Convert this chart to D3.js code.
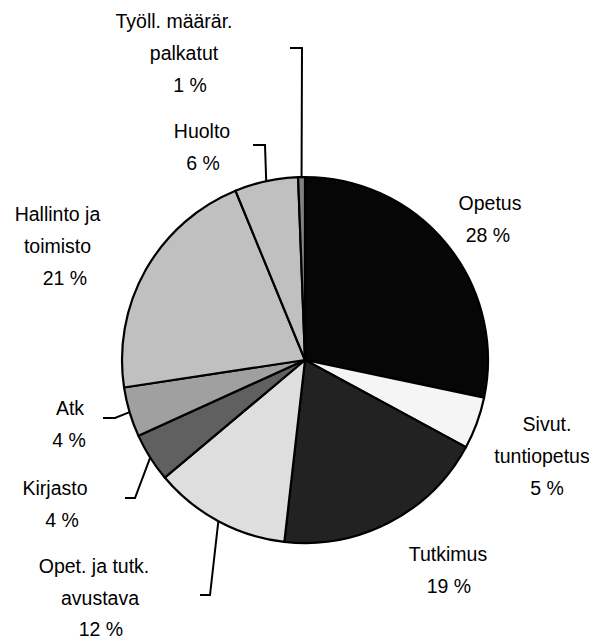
<!DOCTYPE html>
<html>
<head>
<meta charset="utf-8">
<script src="https://cdn.jsdelivr.net/npm/d3@7"></script>
<style>
  body { margin: 0; background: #fff; }
  text { font-family: Arial, "Liberation Sans", sans-serif; font-size: 19.5px; fill: #000; }
</style>
</head>
<body>
<div id="chart"></div>
<script>
// slice data, clockwise from 12 o'clock
const categories = ["Opetus", "Sivut.\ntuntiopetus", "Tutkimus", "Opet. ja tutk.\navustava",
    "Kirjasto", "Atk", "Hallinto ja\ntoimisto", "Huolto", "Työll. määrär.\npalkatut"];
const shares = [28.3, 4.6, 18.9, 12.1, 4.3, 4.4, 21.2, 5.6, 0.6];
const fills = ["#060606", "#f5f5f5", "#222222", "#dedede", "#606060", "#a0a0a0", "#c0c0c0", "#c0c0c0", "#808080"];

// label placement (line centres, first baseline) and leader elbows
const labelPos = [
    {xs: [490, 488], y: 210},
    {xs: [547, 542, 547], y: 431},
    {xs: [448, 449], y: 561},
    {xs: [94, 100, 101], y: 573, gap: 31.5, leader: [210, 595, 200]},
    {xs: [55, 62], y: 495, leader: [135, 498, 125]},
    {xs: [70, 69], y: 415, leader: [115, 418, 103]},
    {xs: [57.5, 57.5, 65], y: 221},
    {xs: [202, 203], y: 138, leader: [265, 145, 253]},
    {xs: [174, 184, 190], y: 28, leader: [302, 48, 290]}
];

const width = 589, height = 640;
const cx = 305, cy = 360, radius = 183;
const lineGap = 32;

const svg = d3.select("#chart").append("svg")
    .attr("width", width)
    .attr("height", height);

const g = svg.append("g").attr("transform", `translate(${cx},${cy})`);

const pie = d3.pie().value(d => d).sort(null);
const arc = d3.arc().innerRadius(0).outerRadius(radius);
const arcs = pie(shares);

g.selectAll("path.slice")
    .data(arcs)
    .enter().append("path")
    .attr("class", "slice")
    .attr("d", arc)
    .attr("fill", (d, i) => fills[i])
    .attr("stroke", "#000")
    .attr("stroke-width", 2.2)
    .attr("stroke-linejoin", "round");

// leader lines from slice edge to label
arcs.forEach((d, i) => {
    const lp = labelPos[i];
    if (!lp.leader) return;
    const a = (d.startAngle + d.endAngle) / 2;
    const sx = cx + radius * Math.sin(a), sy = cy - radius * Math.cos(a);
    const [ex, ey, tx] = lp.leader;
    svg.append("path")
        .attr("d", d3.line()([[sx, sy], [ex, ey], [tx, ey]]))
        .attr("fill", "none")
        .attr("stroke", "#000")
        .attr("stroke-width", 2);
});

// labels
categories.forEach((name, i) => {
    const lp = labelPos[i];
    const gap = lp.gap || lineGap;
    const lines = name.split("\n").concat([Math.round(shares[i]) + " %"]);
    const t = svg.append("text").attr("text-anchor", "middle");
    lines.forEach((ln, j) => {
        t.append("tspan")
            .attr("x", lp.xs[j])
            .attr("y", lp.y + j * gap)
            .text(ln);
    });
});
</script>
</body>
</html>
